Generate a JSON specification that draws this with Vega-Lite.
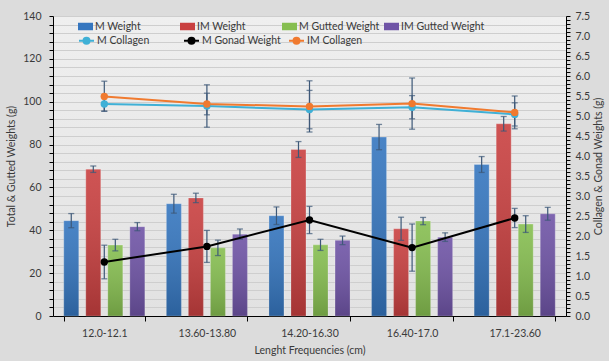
{
  "$schema": "https://vega.github.io/schema/vega-lite/v6.json",
  "width": 513,
  "height": 300,
  "autosize": {"type": "none"},
  "padding": {"left": 53, "top": 16, "right": 43, "bottom": 45},
  "background": "#dcdcdc",
  "config": {
    "font": "Lato",
    "view": {
      "stroke": null,
      "fill": {"gradient": "linear", "x1": 0, "y1": 0, "x2": 0, "y2": 1, "stops": [{"offset": 0, "color": "#efefef"}, {"offset": 1, "color": "#e2e2e2"}]}
    },
    "axis": {
      "labelFont": "Lato", "labelFontSize": 10.5, "labelColor": "#3a3a3a",
      "titleFont": "Lato", "titleFontSize": 10.5, "titleFontWeight": "normal", "titleColor": "#3a3a3a",
      "domainColor": "#000000", "tickColor": "#000000", "gridColor": "#cecece"
    },
    "legend": {"labelFont": "Lato", "labelFontSize": 10.5, "labelColor": "#3a3a3a"}
  },
  "datasets": {
    "bars": [
      {"cat": "12.0-12.1", "series": "M Weight", "value": 44.5, "lo": 41.2, "hi": 47.8},
      {"cat": "12.0-12.1", "series": "IM Weight", "value": 68.5, "lo": 67.0, "hi": 70.0},
      {"cat": "12.0-12.1", "series": "M Gutted Weight", "value": 33.1, "lo": 30.4, "hi": 35.8},
      {"cat": "12.0-12.1", "series": "IM Gutted Weight", "value": 41.7, "lo": 39.8, "hi": 43.6},
      {"cat": "13.60-13.80", "series": "M Weight", "value": 52.4, "lo": 48.0, "hi": 56.8},
      {"cat": "13.60-13.80", "series": "IM Weight", "value": 55.1, "lo": 52.9, "hi": 57.3},
      {"cat": "13.60-13.80", "series": "M Gutted Weight", "value": 31.8, "lo": 28.2, "hi": 35.4},
      {"cat": "13.60-13.80", "series": "IM Gutted Weight", "value": 38.2, "lo": 35.8, "hi": 40.6},
      {"cat": "14.20-16.30", "series": "M Weight", "value": 46.8, "lo": 42.7, "hi": 50.9},
      {"cat": "14.20-16.30", "series": "IM Weight", "value": 77.7, "lo": 74.0, "hi": 81.4},
      {"cat": "14.20-16.30", "series": "M Gutted Weight", "value": 33.2, "lo": 30.6, "hi": 35.8},
      {"cat": "14.20-16.30", "series": "IM Gutted Weight", "value": 35.3, "lo": 33.3, "hi": 37.3},
      {"cat": "16.40-17.0", "series": "M Weight", "value": 83.5, "lo": 77.6, "hi": 89.4},
      {"cat": "16.40-17.0", "series": "IM Weight", "value": 40.7, "lo": 35.3, "hi": 46.1},
      {"cat": "16.40-17.0", "series": "M Gutted Weight", "value": 44.3, "lo": 42.6, "hi": 46.0},
      {"cat": "16.40-17.0", "series": "IM Gutted Weight", "value": 36.8, "lo": 34.8, "hi": 38.8},
      {"cat": "17.1-23.60", "series": "M Weight", "value": 70.7, "lo": 67.0, "hi": 74.4},
      {"cat": "17.1-23.60", "series": "IM Weight", "value": 89.7, "lo": 86.3, "hi": 93.1},
      {"cat": "17.1-23.60", "series": "M Gutted Weight", "value": 42.9, "lo": 39.0, "hi": 46.8},
      {"cat": "17.1-23.60", "series": "IM Gutted Weight", "value": 47.7, "lo": 44.7, "hi": 50.7}
    ],
    "lines": [
      {"cat": "12.0-12.1", "series": "M Collagen", "value": 5.30, "lo": 5.12, "hi": 5.49},
      {"cat": "13.60-13.80", "series": "M Collagen", "value": 5.25, "lo": 4.72, "hi": 5.78},
      {"cat": "14.20-16.30", "series": "M Collagen", "value": 5.16, "lo": 4.68, "hi": 5.64},
      {"cat": "16.40-17.0", "series": "M Collagen", "value": 5.22, "lo": 4.93, "hi": 5.51},
      {"cat": "17.1-23.60", "series": "M Collagen", "value": 5.04, "lo": 4.75, "hi": 5.33},
      {"cat": "12.0-12.1", "series": "M Gonad Weight", "value": 1.35, "lo": 0.93, "hi": 1.77},
      {"cat": "13.60-13.80", "series": "M Gonad Weight", "value": 1.74, "lo": 1.34, "hi": 2.14},
      {"cat": "14.20-16.30", "series": "M Gonad Weight", "value": 2.40, "lo": 2.06, "hi": 2.74},
      {"cat": "16.40-17.0", "series": "M Gonad Weight", "value": 1.71, "lo": 1.12, "hi": 2.30},
      {"cat": "17.1-23.60", "series": "M Gonad Weight", "value": 2.45, "lo": 2.21, "hi": 2.69},
      {"cat": "12.0-12.1", "series": "IM Collagen", "value": 5.49, "lo": 5.12, "hi": 5.87},
      {"cat": "13.60-13.80", "series": "IM Collagen", "value": 5.30, "lo": 5.03, "hi": 5.57},
      {"cat": "14.20-16.30", "series": "IM Collagen", "value": 5.24, "lo": 4.60, "hi": 5.88},
      {"cat": "16.40-17.0", "series": "IM Collagen", "value": 5.31, "lo": 4.67, "hi": 5.95},
      {"cat": "17.1-23.60", "series": "IM Collagen", "value": 5.09, "lo": 4.68, "hi": 5.50}
    ]
  },
  "layer": [
    {
      "data": {"name": "bars"},
      "layer": [
        {
          "mark": {"type": "bar", "stroke": "#ffffff", "strokeOpacity": 0.25, "strokeWidth": 1},
          "encoding": {
            "x": {
              "field": "cat", "type": "nominal", "sort": null,
              "scale": {"paddingInner": 0.21, "paddingOuter": 0.105},
              "axis": {
                "title": "Lenght Frequencies (cm)", "labelAngle": 0, "tickBand": "extent",
                "tickSize": 5, "labelPadding": 7, "titlePadding": 7, "domainColor": "#000000"
              }
            },
            "xOffset": {
              "field": "series", "type": "nominal",
              "sort": ["M Weight", "IM Weight", "M Gutted Weight", "IM Gutted Weight"],
              "scale": {"paddingInner": 0.32, "paddingOuter": 0}
            },
            "y": {
              "field": "value", "type": "quantitative",
              "scale": {"domain": [0, 140], "nice": false},
              "title": "Total & Gutted Weights (g)",
              "axis": {
                "orient": "left",
                "values": [0, 4, 8, 12, 16, 20, 24, 28, 32, 36, 40, 44, 48, 52, 56, 60, 64, 68, 72, 76, 80, 84, 88, 92, 96, 100, 104, 108, 112, 116, 120, 124, 128, 132, 136, 140],
                "tickCount": 500,
                "labelExpr": "datum.value % 20 == 0 ? format(datum.value, 'd') : ''",
                "labelOverlap": false, "grid": true, "tickSize": 4, "labelPadding": 8, "titlePadding": 6
              }
            },
            "color": {
              "field": "series", "type": "nominal",
              "scale": {
                "domain": ["M Weight", "IM Weight", "M Gutted Weight", "IM Gutted Weight"],
                "range": ["#3576bf", "#c94040", "#86be50", "#6f54a6"]
              },
              "legend": {
                "title": null, "orient": "none", "legendX": 25, "legendY": 3,
                "direction": "horizontal", "columns": 4, "gridAlign": "all", "columnPadding": 1,
                "symbolType": "M-1,-0.5H1V0.5H-1Z", "symbolSize": 225, "symbolOffset": 0,
                "labelOffset": 2, "symbolStrokeWidth": 0
              }
            }
          }
        },
        {
          "mark": {
            "type": "bar",
            "fill": {"gradient": "linear", "x1": 0, "y1": 0, "x2": 0, "y2": 1, "stops": [{"offset": 0, "color": "rgba(255,255,255,0.10)"}, {"offset": 1, "color": "rgba(0,0,0,0.18)"}]}
          },
          "encoding": {
            "x": {"field": "cat", "type": "nominal", "sort": null},
            "xOffset": {"field": "series", "type": "nominal", "sort": ["M Weight", "IM Weight", "M Gutted Weight", "IM Gutted Weight"]},
            "y": {"field": "value", "type": "quantitative", "title": "Total & Gutted Weights (g)"}
          }
        },
        {
          "mark": {"type": "rule", "color": "#3d5878", "strokeWidth": 1.2},
          "encoding": {
            "x": {"field": "cat", "type": "nominal", "sort": null},
            "xOffset": {"field": "series", "type": "nominal", "sort": ["M Weight", "IM Weight", "M Gutted Weight", "IM Gutted Weight"]},
            "y": {"field": "lo", "type": "quantitative", "title": "Total & Gutted Weights (g)"},
            "y2": {"field": "hi"}
          }
        },
        {
          "mark": {"type": "tick", "color": "#3d5878", "size": 6, "thickness": 1.3},
          "encoding": {
            "x": {"field": "cat", "type": "nominal", "sort": null},
            "xOffset": {"field": "series", "type": "nominal", "sort": ["M Weight", "IM Weight", "M Gutted Weight", "IM Gutted Weight"]},
            "y": {"field": "lo", "type": "quantitative", "title": "Total & Gutted Weights (g)"}
          }
        },
        {
          "mark": {"type": "tick", "color": "#3d5878", "size": 6, "thickness": 1.3},
          "encoding": {
            "x": {"field": "cat", "type": "nominal", "sort": null},
            "xOffset": {"field": "series", "type": "nominal", "sort": ["M Weight", "IM Weight", "M Gutted Weight", "IM Gutted Weight"]},
            "y": {"field": "hi", "type": "quantitative", "title": "Total & Gutted Weights (g)"}
          }
        }
      ]
    },
    {
      "data": {"name": "lines"},
      "layer": [
        {
          "mark": {"type": "rule", "color": "#3d5878", "strokeWidth": 1.2},
          "encoding": {
            "x": {"field": "cat", "type": "nominal", "sort": null},
            "y": {
              "field": "lo", "type": "quantitative",
              "scale": {"domain": [0, 7.5], "nice": false},
              "title": "Collagen & Gonad Weights (g)",
              "axis": {
                "orient": "right",
                "values": [0, 0.1, 0.2, 0.3, 0.4, 0.5, 0.6, 0.7, 0.8, 0.9, 1, 1.1, 1.2, 1.3, 1.4, 1.5, 1.6, 1.7, 1.8, 1.9, 2, 2.1, 2.2, 2.3, 2.4, 2.5, 2.6, 2.7, 2.8, 2.9, 3, 3.1, 3.2, 3.3, 3.4, 3.5, 3.6, 3.7, 3.8, 3.9, 4, 4.1, 4.2, 4.3, 4.4, 4.5, 4.6, 4.7, 4.8, 4.9, 5, 5.1, 5.2, 5.3, 5.4, 5.5, 5.6, 5.7, 5.8, 5.9, 6, 6.1, 6.2, 6.3, 6.4, 6.5, 6.6, 6.7, 6.8, 6.9, 7, 7.1, 7.2, 7.3, 7.4, 7.5],
                "tickCount": 500,
                "labelExpr": "abs(datum.value * 2 - round(datum.value * 2)) < 0.001 ? format(datum.value, '.1f') : ''",
                "labelOverlap": false, "grid": false, "tickSize": 4, "labelPadding": 5,
                "titleAngle": 270, "titlePadding": 14
              }
            },
            "y2": {"field": "hi"}
          }
        },
        {
          "mark": {"type": "tick", "color": "#3d5878", "size": 6, "thickness": 1.3},
          "encoding": {
            "x": {"field": "cat", "type": "nominal", "sort": null},
            "y": {"field": "lo", "type": "quantitative", "title": "Collagen & Gonad Weights (g)"}
          }
        },
        {
          "mark": {"type": "tick", "color": "#3d5878", "size": 6, "thickness": 1.3},
          "encoding": {
            "x": {"field": "cat", "type": "nominal", "sort": null},
            "y": {"field": "hi", "type": "quantitative", "title": "Collagen & Gonad Weights (g)"}
          }
        },
        {
          "mark": {"type": "line", "strokeWidth": 2},
          "encoding": {
            "x": {"field": "cat", "type": "nominal", "sort": null},
            "y": {"field": "value", "type": "quantitative", "title": "Collagen & Gonad Weights (g)"},
            "color": {
              "field": "series", "type": "nominal",
              "scale": {"domain": ["M Collagen", "M Gonad Weight", "IM Collagen"], "range": ["#3fb0d6", "#000000", "#f07a2f"]},
              "legend": {
                "title": null, "orient": "none", "legendX": 25, "legendY": 16,
                "direction": "horizontal", "columns": 3, "gridAlign": "all", "columnPadding": 4,
                "symbolType": "M-1,0H1M-0.4,0A0.4,0.4 0 1,1 0.4,0A0.4,0.4 0 1,1 -0.4,0Z",
                "symbolSize": 225, "symbolStrokeWidth": 2, "symbolOffset": 0, "labelOffset": 2,
                "encode": {
                  "symbols": {
                    "update": {
                      "fill": {"signal": "datum.value === 'M Collagen' ? '#3fb0d6' : datum.value === 'IM Collagen' ? '#f07a2f' : '#000000'"},
                      "opacity": {"value": 1}
                    }
                  }
                }
              }
            },
            "order": {"field": "cat"}
          }
        },
        {
          "mark": {"type": "point", "filled": true, "size": 55, "opacity": 1},
          "encoding": {
            "x": {"field": "cat", "type": "nominal", "sort": null},
            "y": {"field": "value", "type": "quantitative", "title": "Collagen & Gonad Weights (g)"},
            "color": {"field": "series", "type": "nominal"}
          }
        }
      ]
    }
  ],
  "resolve": {"scale": {"y": "independent", "color": "independent"}, "axis": {"y": "independent"}}
}
